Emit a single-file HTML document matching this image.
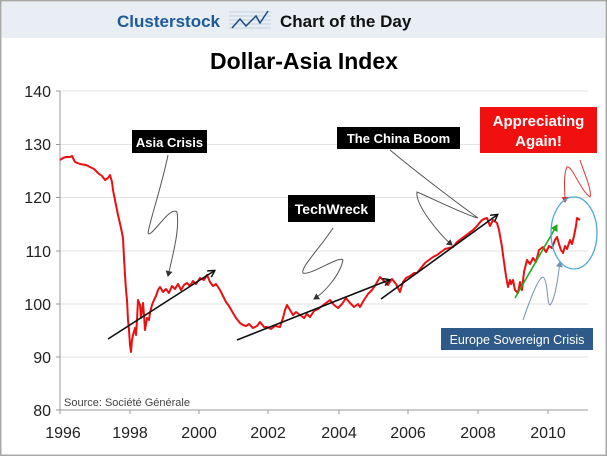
<!DOCTYPE html>
<html><head><meta charset="utf-8"><style>
html,body{margin:0;padding:0;background:#fff}
svg{display:block}
text{font-family:"Liberation Sans",sans-serif}
</style></head><body>
<svg width="607" height="456" viewBox="0 0 607 456" xmlns="http://www.w3.org/2000/svg">
<defs>
<marker id="ah" markerWidth="8" markerHeight="8" refX="6" refY="4" orient="auto" markerUnits="userSpaceOnUse"><path d="M0,0 L7,4 L0,8" fill="none" stroke="#111" stroke-width="1.5"/></marker>
<marker id="ag" markerWidth="8" markerHeight="8" refX="6" refY="4" orient="auto" markerUnits="userSpaceOnUse"><path d="M0,0 L7,4 L0,8 z" fill="#2a2"/></marker>
<marker id="ak" markerWidth="7" markerHeight="7" refX="5" refY="3.5" orient="auto" markerUnits="userSpaceOnUse"><path d="M0,0 L6,3.5 L0,7 z" fill="#333"/></marker>
<marker id="ar" markerWidth="7" markerHeight="7" refX="5" refY="3.5" orient="auto" markerUnits="userSpaceOnUse"><path d="M0,0 L6,3.5 L0,7 z" fill="#d33"/></marker>
<marker id="ab" markerWidth="7" markerHeight="7" refX="5" refY="3.5" orient="auto" markerUnits="userSpaceOnUse"><path d="M0,0 L6,3.5 L0,7 z" fill="#7890b0"/></marker>
</defs>
<rect x="0" y="0" width="607" height="456" fill="#fff" stroke="#a8a8a8" stroke-width="3"/>
<rect x="2" y="2" width="603" height="36" fill="#e8eef4"/>
<text x="220" y="27" font-size="17" font-weight="bold" fill="#1d5a9a" text-anchor="end">Clusterstock</text>
<g stroke="#b8c8dc" stroke-width="0.7"><line x1="229" y1="12" x2="271" y2="12"/><line x1="229" y1="16" x2="271" y2="16"/><line x1="229" y1="20" x2="271" y2="20"/><line x1="229" y1="24" x2="271" y2="24"/><line x1="229" y1="28" x2="271" y2="28"/></g>
<polyline points="232,28 240,19 246,26 256,16 260,23 268,11" fill="none" stroke="#1d4a80" stroke-width="1.5"/>
<text x="280" y="27" font-size="17" font-weight="bold" fill="#111">Chart of the Day</text>
<text x="304" y="69" font-size="23" font-weight="bold" fill="#000" text-anchor="middle">Dollar-Asia Index</text>
<g stroke="#e2e2e2" stroke-width="1">
<line x1="60" y1="91" x2="588" y2="91"/><line x1="60" y1="144.5" x2="588" y2="144.5"/><line x1="60" y1="197.5" x2="588" y2="197.5"/><line x1="60" y1="251" x2="588" y2="251"/><line x1="60" y1="304" x2="588" y2="304"/><line x1="60" y1="357" x2="588" y2="357"/>
</g>
<g stroke="#999" stroke-width="1">
<line x1="60" y1="91" x2="60" y2="410"/><line x1="60" y1="410" x2="588" y2="410"/>
<line x1="56" y1="91" x2="60" y2="91"/><line x1="56" y1="144.5" x2="60" y2="144.5"/><line x1="56" y1="197.5" x2="60" y2="197.5"/><line x1="56" y1="251" x2="60" y2="251"/><line x1="56" y1="304" x2="60" y2="304"/><line x1="56" y1="357" x2="60" y2="357"/><line x1="56" y1="410" x2="60" y2="410"/>
<line x1="60" y1="410" x2="60" y2="414"/><line x1="130" y1="410" x2="130" y2="414"/><line x1="199" y1="410" x2="199" y2="414"/><line x1="268" y1="410" x2="268" y2="414"/><line x1="339" y1="410" x2="339" y2="414"/><line x1="408" y1="410" x2="408" y2="414"/><line x1="478" y1="410" x2="478" y2="414"/><line x1="548" y1="410" x2="548" y2="414"/>
</g>
<g font-size="16" fill="#222" text-anchor="end">
<text x="51" y="97">140</text><text x="51" y="150">130</text><text x="51" y="203">120</text><text x="51" y="257">110</text><text x="51" y="310">100</text><text x="51" y="363">90</text><text x="51" y="416">80</text>
</g>
<g font-size="16" fill="#222" text-anchor="middle">
<text x="63" y="438">1996</text><text x="130" y="438">1998</text><text x="199" y="438">2000</text><text x="268" y="438">2002</text><text x="339" y="438">2004</text><text x="408" y="438">2006</text><text x="478" y="438">2008</text><text x="548" y="438">2010</text>
</g>
<text x="64" y="406" font-size="11" fill="#444">Source: Société Générale</text>
<polyline fill="none" stroke="#e81010" stroke-width="2" stroke-linejoin="round" points="60,160 63,158 66,157 70,157 72,156 75,162 80,164 86,165 90,167 94,169 98,173 102,176 105,180 108,178 110,175 112,182 113,190 115,200 118,215 121,228 123,238 124,258 125,275 126,290 127,300 128,320 129,330 130,345 131,352 132,340 133,335 135,328 136,335 137,320 138,300 140,305 141,318 142,310 143,303 144,315 145,330 147,318 149,320 150,313 152,305 154,300 156,296 158,290 160,287 163,292 166,289 169,293 172,286 175,289 178,284 181,290 184,285 187,283 190,286 193,281 196,284 200,278 204,280 207,275 210,282 213,286 216,284 220,290 223,296 226,302 229,306 233,313 236,318 240,323 243,325 246,326 249,324 253,328 257,326 260,322 264,327 267,327 271,329 275,326 280,327 283,318 285,310 287,305 290,310 293,315 296,312 300,315 304,318 307,314 310,317 314,311 318,309 322,306 326,303 330,300 334,305 338,308 342,304 346,298 350,303 354,307 358,304 360,307 364,300 368,294 372,290 376,284 380,277 384,281 388,285 392,279 396,284 400,292 403,282 406,278 410,276 414,273 417,273 421,268 425,263 429,260 433,257 437,255 441,252 445,249 449,248 453,247 457,242 461,239 465,236 469,233 473,230 477,226 481,221 484,219 487,218 490,226 493,220 497,223 499,230 502,247 504,262 506,276 508,287 510,280 511,284 513,280 515,290 518,293 520,282 522,290 524,272 527,260 530,264 533,258 536,262 539,250 543,247 546,252 549,246 552,248 555,240 557,237 559,244 561,250 563,253 565,246 567,249 570,240 572,244 574,236 576,226 577,218 580,220"/>
<line x1="108" y1="339" x2="214" y2="271" stroke="#111" stroke-width="1.6" marker-end="url(#ah)"/>
<line x1="237" y1="340" x2="389" y2="280" stroke="#111" stroke-width="1.6" marker-end="url(#ah)"/>
<line x1="381" y1="299" x2="497" y2="215" stroke="#111" stroke-width="1.6" marker-end="url(#ah)"/>
<line x1="515" y1="298" x2="557" y2="225" stroke="#2a2" stroke-width="1.6" marker-end="url(#ag)"/>
<path d="M168,155 C162,185 150,220 148,233 C150,240 170,205 177,212 C180,230 172,258 168,276" fill="none" stroke="#555" stroke-width="1" marker-end="url(#ak)"/>
<path d="M333,228 C320,248 300,268 303,273 C310,276 340,255 343,260 C340,275 325,292 314,299" fill="none" stroke="#555" stroke-width="1" marker-end="url(#ak)"/>
<path d="M390,150 C420,175 460,205 478,218 C465,215 425,195 417,192 C415,205 440,235 452,245" fill="none" stroke="#555" stroke-width="1" marker-end="url(#ak)"/>
<path d="M580,160 C585,175 592,190 590,197 C580,190 572,165 567,167 C563,175 565,192 565,202" fill="none" stroke="#d33" stroke-width="1" marker-end="url(#ar)"/>
<path d="M523,320 C530,300 538,278 543,277 C548,280 547,305 550,305 C555,300 558,278 560,262" fill="none" stroke="#7890b0" stroke-width="1" marker-end="url(#ab)"/>
<ellipse cx="574" cy="233" rx="23" ry="36" fill="none" stroke="#4aa8d8" stroke-width="1.3"/>
<rect x="132" y="130" width="75" height="23" fill="#000"/>
<text x="169.5" y="147" font-size="13" font-weight="bold" fill="#fff" text-anchor="middle">Asia Crisis</text>
<rect x="288" y="195" width="87" height="27" fill="#000"/>
<text x="331.5" y="214" font-size="14" font-weight="bold" fill="#fff" text-anchor="middle">TechWreck</text>
<rect x="337" y="127" width="123" height="22" fill="#000"/>
<text x="398.5" y="143" font-size="13" font-weight="bold" fill="#fff" text-anchor="middle">The China Boom</text>
<rect x="480" y="107" width="117" height="46" fill="#f01010"/>
<text x="538.5" y="126" font-size="15" font-weight="bold" fill="#fff" text-anchor="middle">Appreciating</text>
<text x="538.5" y="146" font-size="15" font-weight="bold" fill="#fff" text-anchor="middle">Again!</text>
<rect x="441" y="328" width="152" height="22" fill="#2e5a8a"/>
<text x="517" y="344" font-size="12.5" fill="#fff" text-anchor="middle">Europe Sovereign Crisis</text>
</svg>
</body></html>
